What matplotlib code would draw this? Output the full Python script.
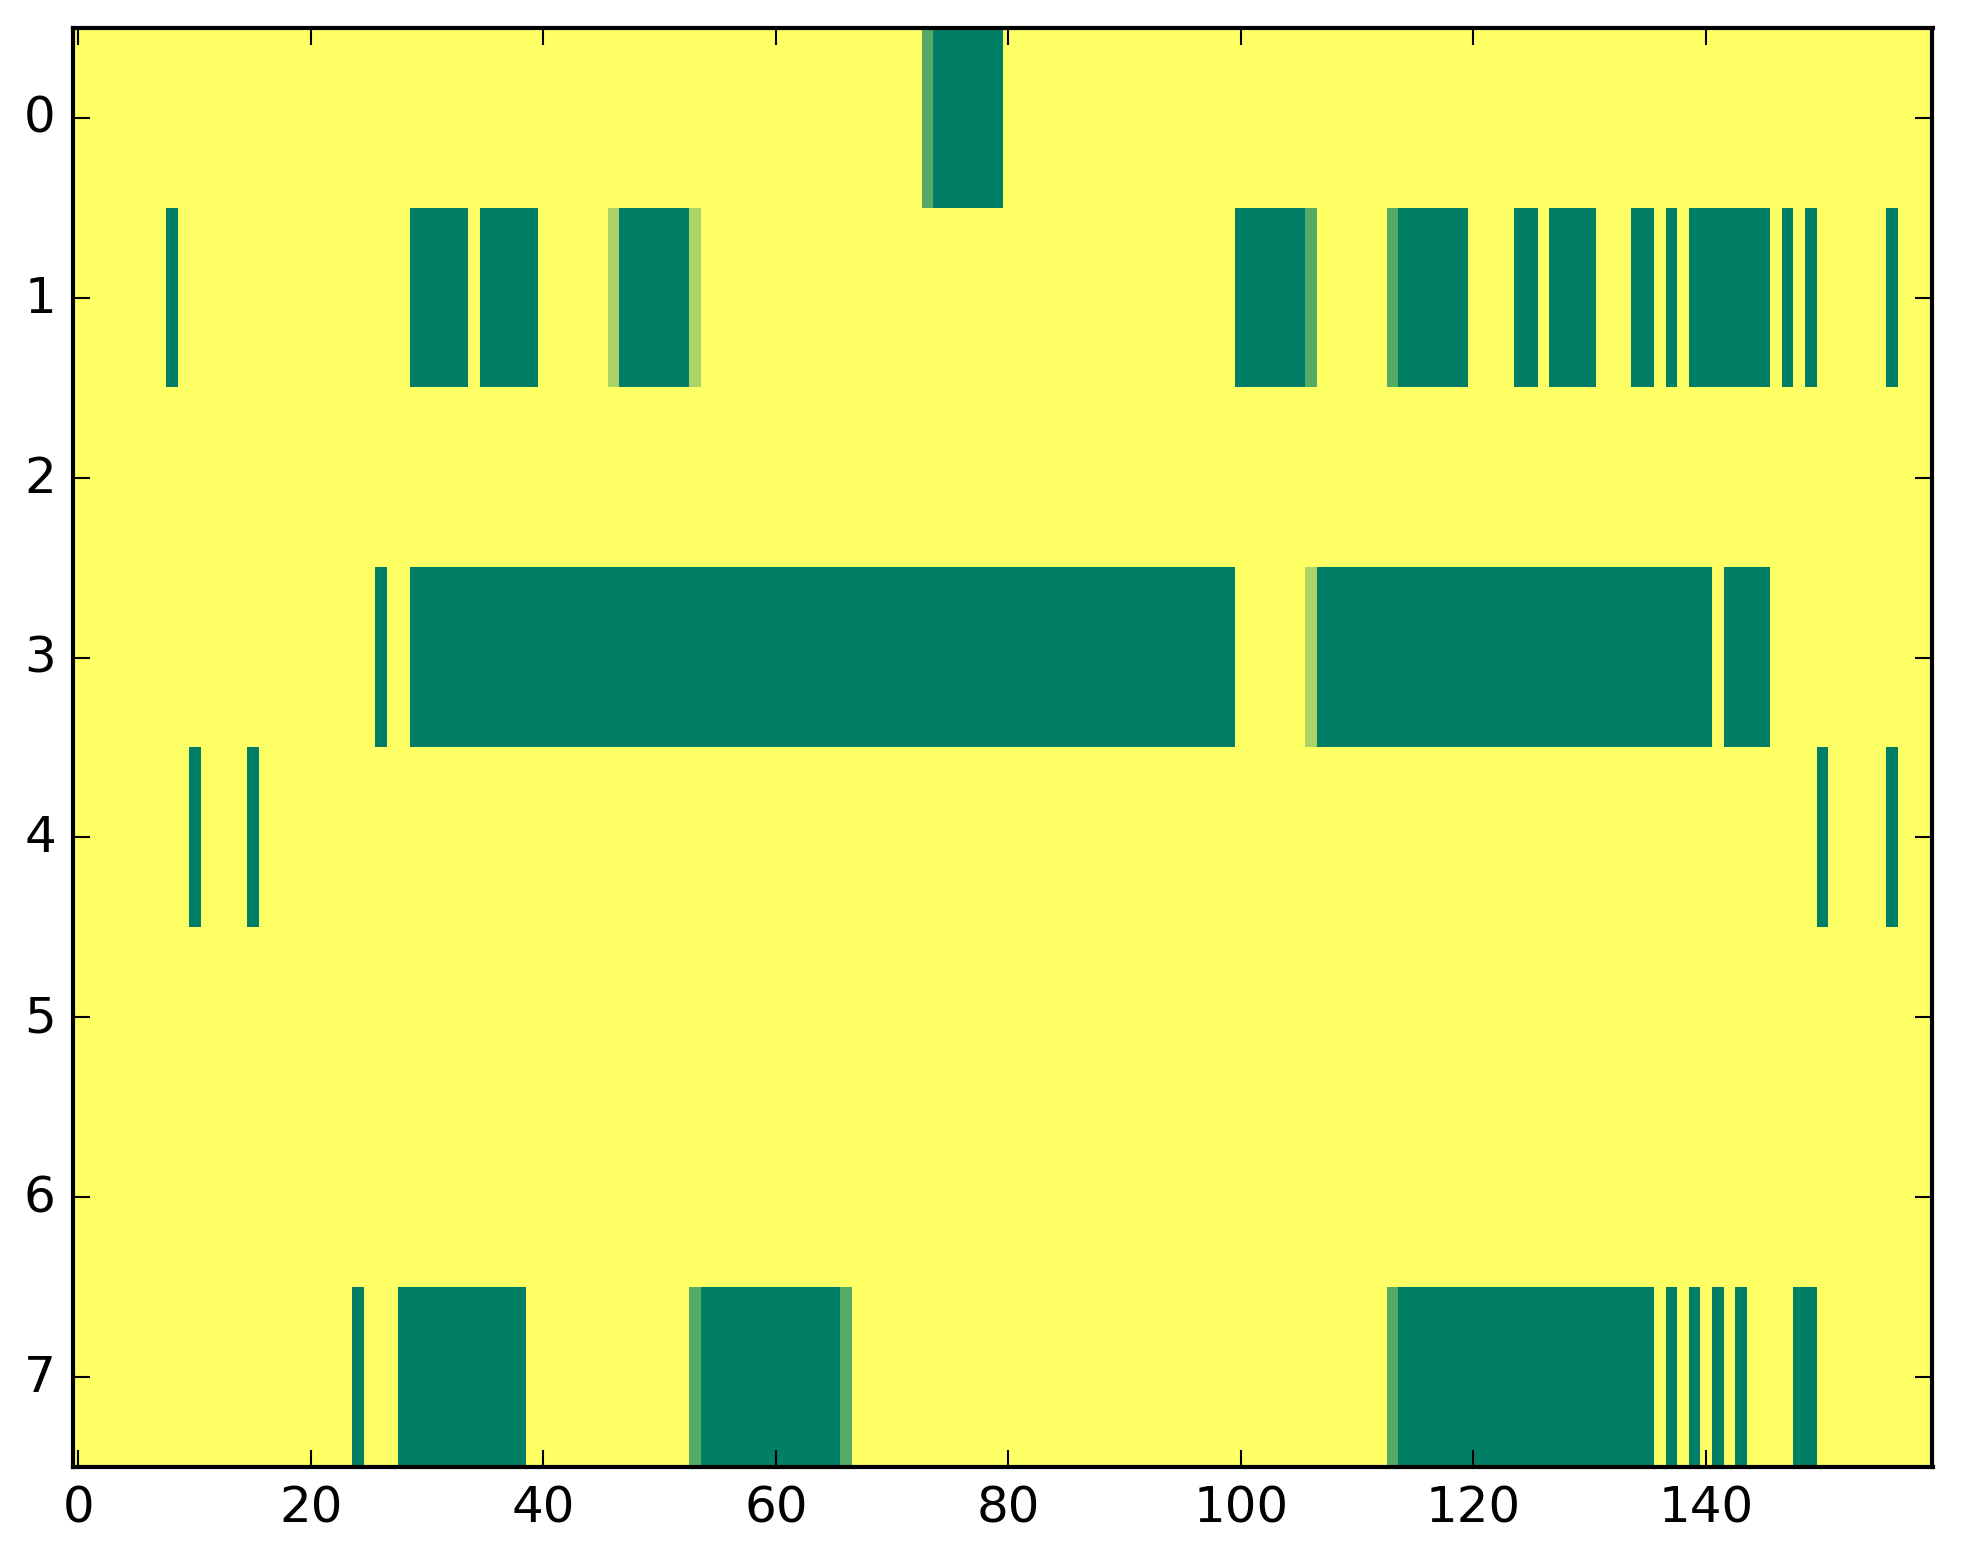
import numpy as np
import matplotlib
matplotlib.use("Agg")
import matplotlib.pyplot as plt

plt.style.use("classic")

n_rows = 8
n_cols = 160

# Each row: list of (first_col, last_col, level) runs; level in 0..3 (3 = full)
row0 = [(73, 73, 2), (74, 79, 3)]
row1 = [(8, 8, 3), (29, 33, 3), (35, 39, 3), (46, 46, 1), (47, 52, 3), (53, 53, 1),
        (100, 105, 3), (106, 106, 2), (113, 113, 2), (114, 119, 3), (124, 125, 3),
        (127, 130, 3), (134, 135, 3), (137, 137, 3), (139, 145, 3), (147, 147, 3),
        (149, 149, 3), (156, 156, 3)]
row2 = []
row3 = [(26, 26, 3), (29, 99, 3), (106, 106, 1), (107, 140, 3), (142, 145, 3)]
row4 = [(10, 10, 3), (15, 15, 3), (150, 150, 3), (156, 156, 3)]
row5 = []
row6 = []
row7 = [(24, 24, 3), (28, 38, 3), (53, 53, 2), (54, 65, 3), (66, 66, 2), (113, 113, 2),
        (114, 135, 3), (137, 137, 3), (139, 139, 3), (141, 141, 3), (143, 143, 3),
        (148, 149, 3)]

rows = [row0, row1, row2, row3, row4, row5, row6, row7]
max_level = 3

data = np.zeros((n_rows, n_cols))
for r, runs in enumerate(rows):
    for a, b, lv in runs:
        data[r, a:b + 1] = lv / max_level

W, H, DPI = 1963, 1564, 300
fig = plt.figure(figsize=(W / DPI, H / DPI), dpi=DPI, facecolor="white")
ax = fig.add_axes([72.5 / W, 96 / H, 1860 / W, 1439 / H])
ax.imshow(data, cmap="summer_r", vmin=0, vmax=1, aspect="auto",
          interpolation="nearest")
ax.set_xlim(-0.5, n_cols - 0.5)
ax.set_ylim(n_rows - 0.5, -0.5)
ax.set_xticks(np.arange(0, 141, 20))
ax.set_yticks(np.arange(0, 8, 1))
fig.savefig("out.png", dpi=DPI, facecolor="white")
